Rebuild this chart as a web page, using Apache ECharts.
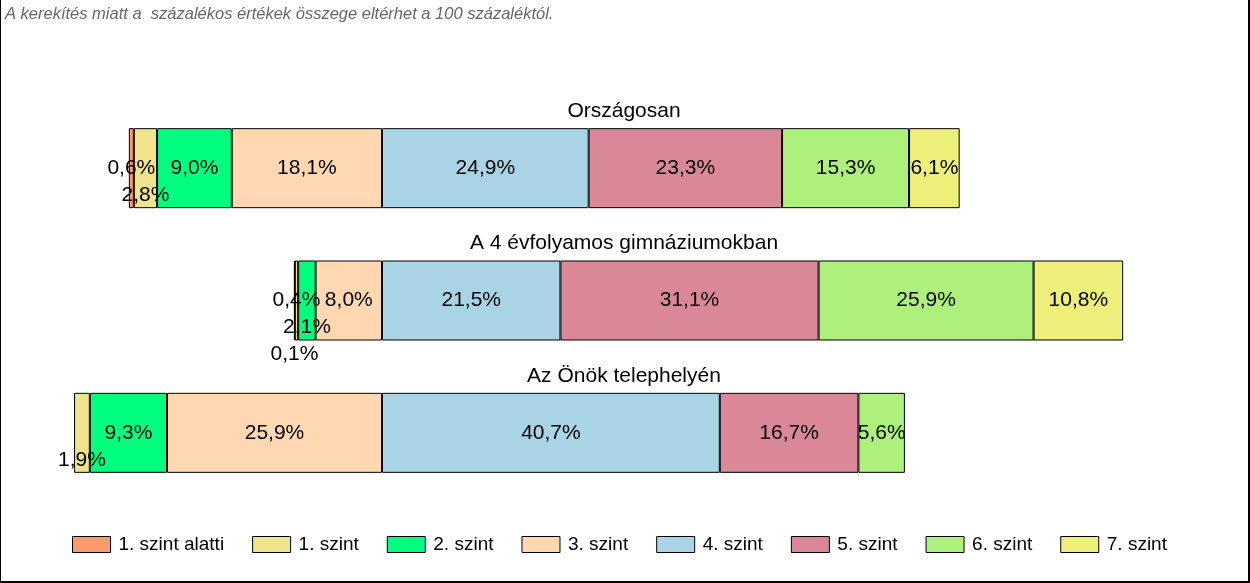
<!DOCTYPE html>
<html>
<head>
<meta charset="utf-8">
<script src="https://cdn.jsdelivr.net/npm/echarts@6/dist/echarts.min.js"></script>
<style>
  html, body { margin: 0; padding: 0; background: #fff; }
  #wrap { position: relative; width: 1250px; height: 583px; }
  #chart { width: 1250px; height: 583px; }
  #frame {
    position: absolute; left: 0; top: 0; width: 1250px; height: 583px;
    box-sizing: border-box; border-left: 1px solid #000; border-right: 2px solid #000;
    border-bottom: 2px solid #000; pointer-events: none;
  }
</style>
</head>
<body>
<div id="wrap">
  <div id="chart"></div>
  <div id="frame"></div>
</div>
<script>
const categories = ["Országosan", "A 4 évfolyamos gimnáziumokban", "Az Önök telephelyén"];
const levels = ["1. szint alatti", "1. szint", "2. szint", "3. szint", "4. szint", "5. szint", "6. szint", "7. szint"];
const belowLevel1 = [0.6, 0.1, 0];
const level1 = [2.8, 0.4, 1.9];
const level2 = [9.0, 2.1, 9.3];
const level3 = [18.1, 8.0, 25.9];
const level4 = [24.9, 21.5, 40.7];
const level5 = [23.3, 31.1, 16.7];
const level6 = [15.3, 25.9, 5.6];
const level7 = [6.1, 10.8, 0];
const note = "A kerekítés miatt a  százalékos értékek összege eltérhet a 100 százaléktól.";

const values = [belowLevel1, level1, level2, level3, level4, level5, level6, level7];
const colors = ["#FF9A6E", "#F0E48A", "#00FF7F", "#FFD8B2", "#A8D4E6", "#DA8898", "#ADF07B", "#EEEE7A"];

const font = '"Liberation Sans", Arial, sans-serif';
const labelSize = 21;
const gridLeft = 50, gridRight = 38, xMin = -40, xMax = 100;
const pxPerUnit = (1250 - gridLeft - gridRight) / (xMax - xMin);
const rowStep = 27;

const ctx = document.createElement("canvas").getContext("2d");
ctx.font = labelSize + "px " + font;

function fmt(v) {
  return Math.abs(v).toFixed(1).replace(".", ",") + "%";
}

// pick a row for every label so that small neighbouring labels do not collide
const labelRow = values.map(() => []);
categories.forEach((c, ci) => {
  [[3, 2, 1, 0], [4, 5, 6, 7]].forEach((order, side) => {
    const sign = side === 0 ? -1 : 1;
    const rows = [];
    let cum = 0;
    order.forEach((si) => {
      const v = values[si][ci];
      if (!v) { labelRow[si][ci] = 0; return; }
      const center = sign * (cum + v / 2) * pxPerUnit;
      cum += v;
      const w = ctx.measureText(fmt(v)).width + 2;
      const l = center - w / 2, r = center + w / 2;
      let row = 0;
      while (rows[row] && rows[row].some((b) => l < b[1] && r > b[0])) row++;
      (rows[row] = rows[row] || []).push([l, r]);
      labelRow[si][ci] = row;
    });
  });
});

const stackOrder = [3, 2, 1, 0, 4, 5, 6, 7];
const series = stackOrder.map((si) => ({
  name: levels[si],
  type: "bar",
  stack: "total",
  barWidth: 80,
  itemStyle: { color: colors[si], borderColor: "#000", borderWidth: 1 },
  label: {
    show: true,
    position: "inside",
    color: "#000",
    fontFamily: font,
    fontSize: labelSize,
    formatter: (p) => fmt(p.value),
  },
  data: values[si].map((v, ci) => ({
    value: v ? (si < 4 ? -v : v) : null,
    label: { offset: [0, labelRow[si][ci] * rowStep] },
  })),
}));

const chart = echarts.init(document.getElementById("chart"));
chart.setOption({
  animation: false,
  title: {
    text: note,
    left: 0,
    top: 1,
    textStyle: { fontFamily: font, fontSize: 16.5, fontStyle: "italic", fontWeight: "normal", color: "#666" },
  },
  legend: {
    data: levels,
    icon: "rect",
    left: 72,
    top: 535,
    padding: 0,
    itemWidth: 38,
    itemHeight: 16,
    itemGap: 28,
    itemStyle: { borderColor: "#000", borderWidth: 1 },
    textStyle: { fontFamily: font, fontSize: 19, color: "#000", padding: [0, 0, 0, 3] },
  },
  grid: { left: gridLeft, right: gridRight, top: 102, height: 397 },
  xAxis: {
    type: "value",
    min: xMin,
    max: xMax,
    show: false,
  },
  yAxis: {
    type: "category",
    data: categories,
    inverse: true,
    axisLine: { show: false },
    axisTick: { show: false },
    axisLabel: {
      inside: true,
      margin: 624 - gridLeft,
      align: "center",
      formatter: (v) => "{t|" + v + "}",
      rich: {
        t: { fontFamily: font, fontSize: 21, color: "#000", padding: [0, 0, 114, 0] },
      },
    },
  },
  series: series,
});
</script>
</body>
</html>
